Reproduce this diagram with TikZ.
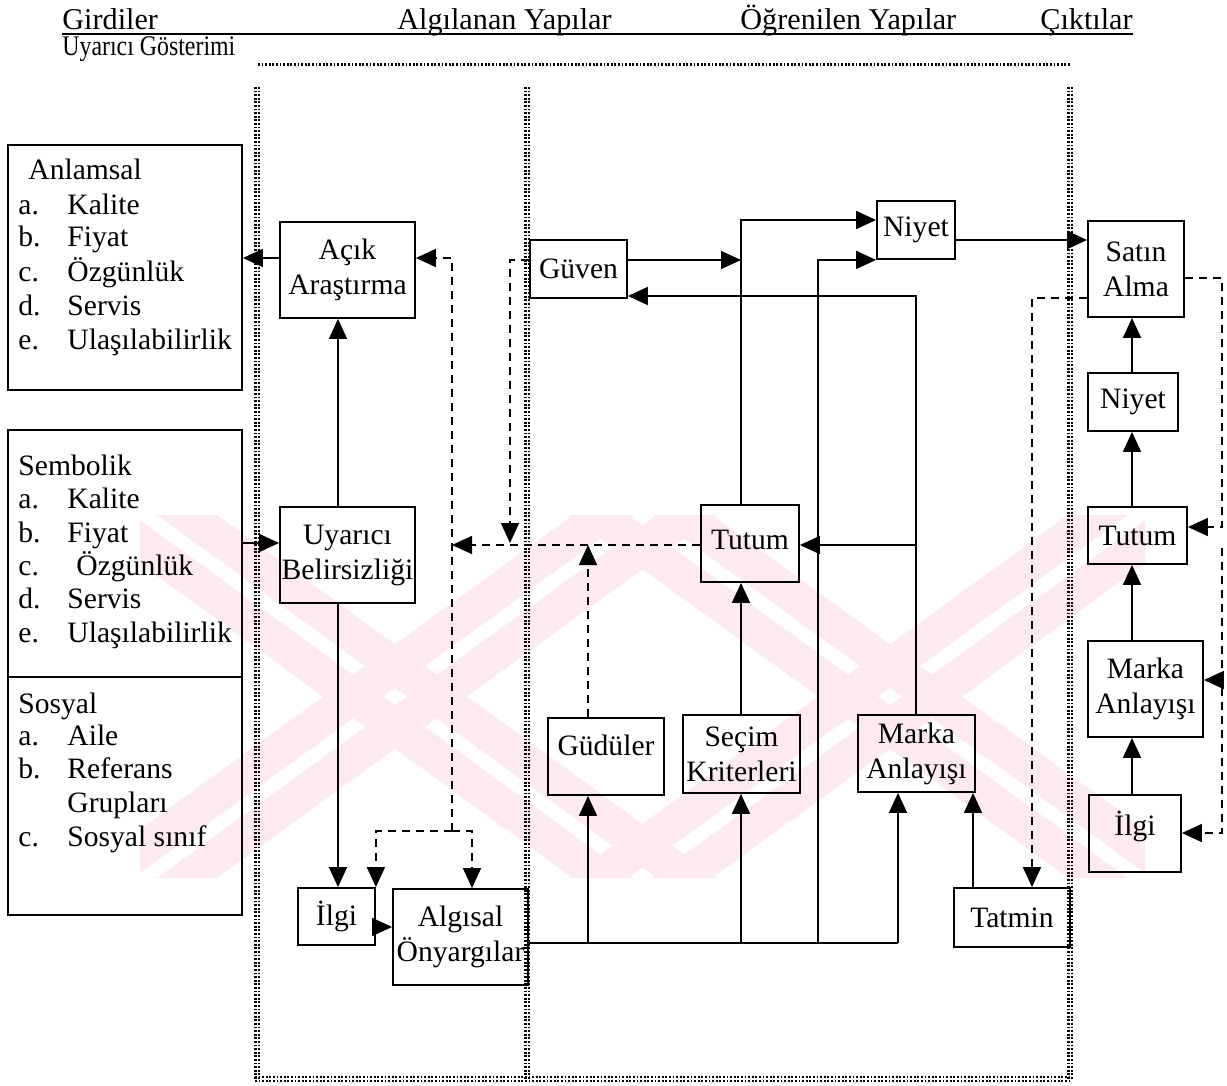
\documentclass[tikz,border=0pt]{standalone}
\usepackage{fontspec}
\usepackage{graphicx}
\setmainfont{Liberation Serif}
\usetikzlibrary{arrows.meta}
\definecolor{wmpink}{RGB}{253,234,238}
\begin{document}
\begin{tikzpicture}[x=0.5pt,y=-0.5pt,
  box/.style={draw, line width=0.9pt, inner sep=0pt, align=center,
    font=\fontsize{14.8}{17.5}\selectfont},
  sz/.style 2 args={minimum width=#1pt, minimum height=#2pt},
  arr/.style={line width=0.8pt, -{Triangle[length=10pt,width=9pt]}},
  darr/.style={arr, dash pattern=on 4pt off 3pt},
  sline/.style={line width=0.8pt},
  frame/.style={line width=1.2pt, dash pattern=on 0.9pt off 0.9pt, black},
  lst/.style={anchor=base west, inner sep=0pt, font=\fontsize{14.8}{17.5}\selectfont},
  head/.style={anchor=base west, inner sep=0pt, font=\fontsize{15.1}{18}\selectfont},
]
\useasboundingbox (0,0) rectangle (1227,1086);

% faint background emblem
\begin{scope}
  \clip (140,515) rectangle (1145,878);
  \foreach \cx in {395,890} {
    \foreach \s in {-1,1} {
      \foreach \o in {-42,42} {
        \fill[wmpink] ({\cx-250*\s+\o-30},515) -- ({\cx-250*\s+\o+30},515)
          -- ({\cx+250*\s+\o+30},878) -- ({\cx+250*\s+\o-30},878) -- cycle;
      }
    }
  }
\end{scope}

% column headings
\node[head] (hgir) at (62,30) {Girdiler};
\node[head] (halg) at (397,30) {Algılanan Yapılar};
\node[head] (hogr) at (740,30) {Öğrenilen Yapılar};
\node[head] (hcik) at (1040,30) {Çıktılar};
\draw[line width=0.8pt] ([yshift=-2pt]hgir.base west) -- ([yshift=-2pt]hcik.base east);
\node[anchor=base west, inner sep=0pt] (hsub) at (62,56)
  {\scalebox{0.84}[1]{\fontsize{14.2}{16}\selectfont Uyarıcı Gösterimi}};

% dotted frames
\draw[frame, line width=1.5pt] (258,65) -- (1070,65);
\foreach \xx in {257,527,1070} {
  \draw[frame] (\xx-1.7,87) -- (\xx-1.7,1080);
  \draw[frame] (\xx+1.7,87) -- (\xx+1.7,1080);
}
\draw[frame] (255,1077) -- (1072,1077);
\draw[frame] (255,1081) -- (1072,1081);

% input boxes
\node[box, sz={117}{122.5}] (anl) at (125,267.5) {};
\node[box, sz={117}{123.5}] (sem) at (125,553.5) {};
\node[box, sz={117}{119}] (sos) at (125,796) {};

\node[lst] (anlT) at (28,180) {Anlamsal};
\foreach \yy/\ll/\ww [count=\i] in {214/a./Kalite, 247/b./Fiyat, 281/c./Özgünlük, 315/d./Servis, 349/e./Ulaşılabilirlik} {
  \node[lst] (anlL\i) at (18,\yy) {\ll};
  \node[lst] (anlW\i) at (67,\yy) {\ww};
}
\node[lst] (semT) at (18,475) {Sembolik};
\foreach \yy/\ll/\ww/\xx [count=\i] in {508/a./Kalite/67, 542/b./Fiyat/67, 575/c./Özgünlük/76, 608/d./Servis/67, 642/e./Ulaşılabilirlik/67} {
  \node[lst] (semL\i) at (18,\yy) {\ll};
  \node[lst] (semW\i) at (\xx,\yy) {\ww};
}
\node[lst] (sosT) at (18,713) {Sosyal};
\foreach \yy/\ll/\ww [count=\i] in {745/a./Aile, 778/b./Referans, 846/c./Sosyal sınıf} {
  \node[lst] (sosL\i) at (18,\yy) {\ll};
  \node[lst] (sosW\i) at (67,\yy) {\ww};
}
\node[lst] (sosW4) at (67,812) {Grupları};

% perceived constructs
\node[box, sz={67.5}{48}] (acik) at (347.5,270) {Açık\\Araştırma};
\node[box, sz={67.5}{48}] (uyb) at (347.5,555) {Uyarıcı\\Belirsizliği};
\node[box, sz={38.5}{28.5}] (ilgiL) at (336.5,916.5) {İlgi};
\node[box, sz={67.5}{48}] (alg) at (460.5,937) {Algısal\\Önyargılar};

% learned constructs
\node[box, sz={48.5}{29}] (guven) at (578.5,269) {Güven};
\node[box, sz={39}{29}] (niyetM) at (916,230) {Niyet};
\node[box, sz={49}{38.5}] (tutumM) at (750,543.5) {\raisebox{4pt}{Tutum}};
\node[box, sz={58}{38.5}] (gudu) at (606,756.5) {\raisebox{11pt}{Güdüler}};
\node[box, sz={58.5}{39}] (secim) at (741.5,754) {Seçim\\Kriterleri};
\node[box, sz={58.5}{38.5}] (markaM) at (916.5,753.5) {Marka\\Anlayışı};
\node[box, sz={58}{29.5}] (tatmin) at (1012,917.5) {Tatmin};

% outputs
\node[box, sz={48}{48}] (satin) at (1136,269) {Satın\\Alma};
\node[box, sz={45}{29}] (niyetR) at (1133,402) {Niyet};
\node[box, sz={49.5}{28.5}] (tutumR) at (1137.5,535.5) {Tutum};
\node[box, sz={57.5}{48}] (markaR) at (1145.5,689) {Marka\\Anlayışı};
\node[box, sz={46}{38.5}] (ilgiR) at (1135,833.5) {\raisebox{10pt}{İlgi}};

% reference levels and columns
\coordinate (y220) at (0,220);
\coordinate (y240) at (0,240);
\coordinate (y258) at (0,258);
\coordinate (y260) at (0,260);
\coordinate (y278) at (0,278);
\coordinate (y296) at (0,296);
\coordinate (y298) at (0,298);
\coordinate (y527) at (0,527);
\coordinate (y543) at (0,543);
\coordinate (y545) at (0,545);
\coordinate (y548) at (0,548);
\coordinate (y680) at (0,680);
\coordinate (y831) at (0,831);
\coordinate (y833) at (0,833);
\coordinate (y927) at (0,927);
\coordinate (y943) at (0,943);
\coordinate (x338) at (338,0);
\coordinate (x452) at (452,0);
\coordinate (x472) at (472,0);
\coordinate (x510) at (510,0);
\coordinate (x588) at (588,0);
\coordinate (x741) at (741,0);
\coordinate (x818) at (818,0);
\coordinate (x898) at (898,0);
\coordinate (x916) at (916,0);
\coordinate (x973) at (973,0);
\coordinate (x1032) at (1032,0);
\coordinate (x1132) at (1132,0);
\coordinate (x1222) at (1222,0);

% solid connectors, left part
\draw[arr] (acik.west |- y258) -- (anl.east |- y258);
\draw[arr] (sem.east |- y543) -- (uyb.west |- y543);
\draw[arr] (uyb.north -| x338) -- (acik.south -| x338);
\draw[arr] (uyb.south -| x338) -- (ilgiL.north -| x338);
\draw[arr] (ilgiL.east |- y927) -- (alg.west |- y927);

% bottom collector and its branches
\draw[sline] (alg.east |- y943) -- (x898 |- y943);
\draw[arr] (x588 |- y943) -- (gudu.south -| x588);
\draw[arr] (x741 |- y943) -- (secim.south -| x741);
\draw[arr] (x898 |- y943) -- (markaM.south -| x898);
\draw[arr] (x818 |- y943) |- (niyetM.south west);

% middle block
\draw[arr] (secim.north -| x741) -- (tutumM.south -| x741);
\draw[arr] (tutumM.north -| x741) |- (niyetM.west |- y220);
\draw[arr] (guven.east |- y260) -- (x741 |- y260);
\draw[arr] (markaM.north -| x916) |- (guven.east |- y296);
\draw[arr] (x916 |- y545) -- (tutumM.east |- y545);
\draw[arr] (niyetM.east |- y240) -- (satin.west |- y240);
\draw[arr] (tatmin.north -| x973) -- (markaM.south -| x973);

% output chain
\draw[arr] (niyetR.north -| x1132) -- (satin.south -| x1132);
\draw[arr] (tutumR.north -| x1132) -- (niyetR.south -| x1132);
\draw[arr] (markaR.north -| x1132) -- (tutumR.south -| x1132);
\draw[arr] (ilgiR.north -| x1132) -- (markaR.south -| x1132);

% dashed feedback paths
\draw[darr] (x452 |- y831) -- (x452 |- y258) -- (acik.east |- y258);
\draw[darr] (x452 |- y831) -| (ilgiL.north east);
\draw[darr] (x452 |- y831) -| (alg.north -| x472);
\draw[darr] (guven.west |- y260) -| (x510 |- y543);
\draw[darr] (tutumM.west |- y545) -- (x452 |- y545);
\draw[darr] (gudu.north -| x588) -- (x588 |- y545);
\draw[darr] (satin.west |- y298) -| (tatmin.north -| x1032);
\draw[darr] (satin.east |- y278) -| (x1222 |- y527) -- (tutumR.east |- y527);
\draw[darr] (x1222 |- y548) |- (ilgiR.east |- y833);
\draw[darr] (x1222 |- y680) -- (markaR.east |- y680);
\end{tikzpicture}
\end{document}
